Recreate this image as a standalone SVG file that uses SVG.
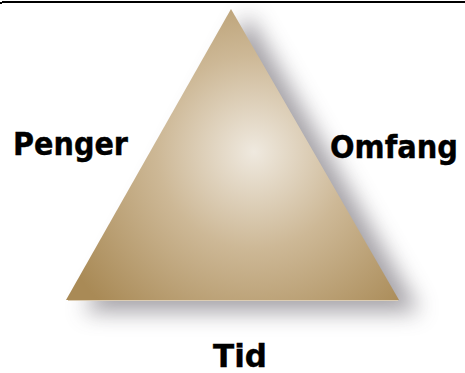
<svg xmlns="http://www.w3.org/2000/svg" width="465" height="373" viewBox="0 0 465 373">
<style>
.lbl{font-family:"DejaVu Sans","Verdana",sans-serif;font-weight:bold;font-size:32px;fill:#000000;stroke:#000000;stroke-width:0.4}
</style>
<defs>
<radialGradient id="fillG" gradientUnits="userSpaceOnUse" cx="254" cy="152" r="215">
<stop offset="0" stop-color="#efe9df"/>
<stop offset="0.45" stop-color="#cdb896"/>
<stop offset="1" stop-color="#a98a56"/>
</radialGradient>
<filter id="shadow" x="-30%" y="-30%" width="160%" height="160%">
<feGaussianBlur stdDeviation="11"/>
</filter>
</defs>
<rect width="465" height="373" fill="#ffffff"/>
<line x1="2" y1="2" x2="465" y2="2" stroke="#000000" stroke-width="2"/>
<rect x="0" y="2" width="2" height="2" fill="#000000"/>
<g id="triangle">
<polygon points="248,14 84,312 420,312" fill="#5c5660" opacity="0.55" filter="url(#shadow)"/>
<polygon points="231,9 66,300 399,300" fill="url(#fillG)"/>
<line x1="68" y1="300.5" x2="398" y2="300.5" stroke="#dccdb4" stroke-width="1.2"/>
</g>
<g id="penger"><text class="lbl" x="13" y="155" textLength="115" lengthAdjust="spacingAndGlyphs">Penger</text></g>
<g id="omfang"><text class="lbl" x="330" y="158" textLength="128" lengthAdjust="spacingAndGlyphs">Omfang</text></g>
<g id="tid"><text class="lbl" x="213" y="367" textLength="54" lengthAdjust="spacingAndGlyphs">Tid</text></g>
<g id="connectors"></g>
</svg>
